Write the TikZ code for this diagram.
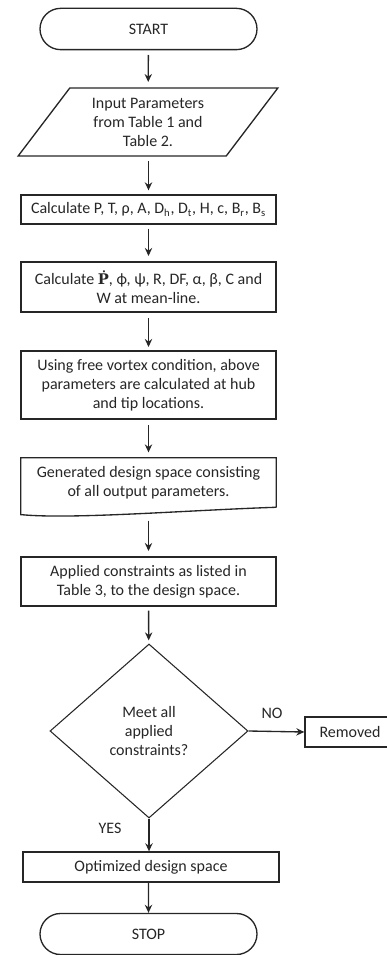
\documentclass[tikz,border=0pt]{standalone}
\usepackage{amsmath}
\usepackage{fontspec}
\setmainfont{Carlito}
\newfontfamily\dotserif{DejaVu Serif}
\usepackage{tikz}
\usetikzlibrary{arrows.meta, shapes.geometric, shapes.misc}
\tikzset{
  terminal/.style={
    rounded rectangle,
    draw=black!85,
    line width=1pt,
    minimum width=162.75pt,
    minimum height=31pt,
    inner sep=0pt
  },
  io box/.style={
    trapezium,
    trapezium left angle=52.6,
    trapezium right angle=127.4,
    trapezium stretches=true,
    draw=black!85,
    line width=1pt,
    minimum width=195pt,
    minimum height=51pt,
    align=center,
    inner sep=0pt
  },
  process/.style={
    rectangle,
    draw=black!85,
    line width=1pt,
    minimum width=191.25pt,
    align=center,
    inner sep=0pt
  },
  decision/.style={
    diamond,
    draw=black!85,
    line width=0.8pt,
    minimum width=148.5pt,
    minimum height=130.5pt,
    align=center,
    inner sep=0pt
  },
  flow/.style={
    -{Stealth[length=6pt, width=5.5pt]},
    line width=1pt,
    color=black!85
  },
  branch label/.style={
    font=\fontsize{12}{14}\selectfont,
    color=black!85
  }
}

\begin{document}
\begin{tikzpicture}[x=0.75pt, y=-0.75pt, font=\fontsize{12}{14.25}\selectfont, text=black!85]
    % bounding box of the page
    \useasboundingbox (0,0) rectangle (386,955);

    % terminals and steps
    \node[terminal] (start) at (148.5, 29) {START};
    \node[io box] (input) at (148, 122) {Input Parameters\\from Table 1 and\\Table 2.};
    \node[process, minimum height=21.75pt] (calcA) at (148.5, 209.5)
      {Calculate P, T, ρ, A, D\textsubscript{h}, D\textsubscript{t}, H, c, B\textsubscript{r}, B\textsubscript{s}};
    \node[process, minimum height=37.5pt] (calcB) at (148.5, 287)
      {Calculate {\dotserif\bfseries\fontsize{11}{14}\selectfont Ṗ}, ϕ, ψ, R, DF, α, β, C and\\W at mean-line.};
    \node[process, minimum height=51pt] (vortex) at (148.5, 385)
      {Using free vortex condition, above\\parameters are calculated at hub\\and tip locations.};

    % document shape with wavy bottom
    \node[minimum width=191.25pt, minimum height=36.75pt, align=center, inner sep=0pt] (space) at (148.5, 482.5)
      {Generated design space consisting\\of all output parameters.};
    \draw[line width=1pt, black!85] (space.south east) -- (space.north east) -- (space.north west)
      -- ([yshift=-5.5pt]space.south west)
      .. controls +(50,5) and +(-90,3) .. (space.south east);

    \node[process, minimum height=36.75pt] (applied) at (148.5, 581.5)
      {Applied constraints as listed in\\Table 3, to the design space.};

    % decision
    \node[decision] (meet) at (149, 731) {Meet all\\applied\\constraints?};
    \node[process, minimum width=67.5pt, minimum height=22.5pt] (removed) at (350, 732) {Removed};
    \node[process, minimum width=192pt, minimum height=22.5pt] (optimal) at (151, 867) {Optimized design space};
    \node[terminal, minimum height=30.75pt] (stop) at (148.5, 934) {STOP};

    % connectors
    \draw[flow, shorten <=3.5pt, shorten >=4pt] (start) -- (input);
    \draw[flow, shorten <=3.5pt, shorten >=3pt] (input.south -| calcA) -- (calcA);
    \draw[flow, shorten <=3pt, shorten >=4pt] (calcA) -- (calcB);
    \draw[flow, shorten <=4pt, shorten >=2.5pt] (calcB) -- (vortex);
    \draw[flow, shorten <=4pt, shorten >=4pt] (vortex) -- (space);
    \draw[flow, shorten <=10pt, shorten >=4pt] (space) -- (applied);
    \draw[flow, shorten <=3pt, shorten >=2.5pt] (applied) -- (meet);
    \draw[flow] (meet.east) -- (removed.west);
    \draw[flow] (meet.south) -- (meet.south |- optimal.north);
    \draw[flow] (optimal.south -| start) -- (stop);

    % branch labels
    \node[branch label] (no) at (272, 713) {NO};
    \node[branch label] (yes) at (110, 828) {YES};
\end{tikzpicture}
\end{document}
